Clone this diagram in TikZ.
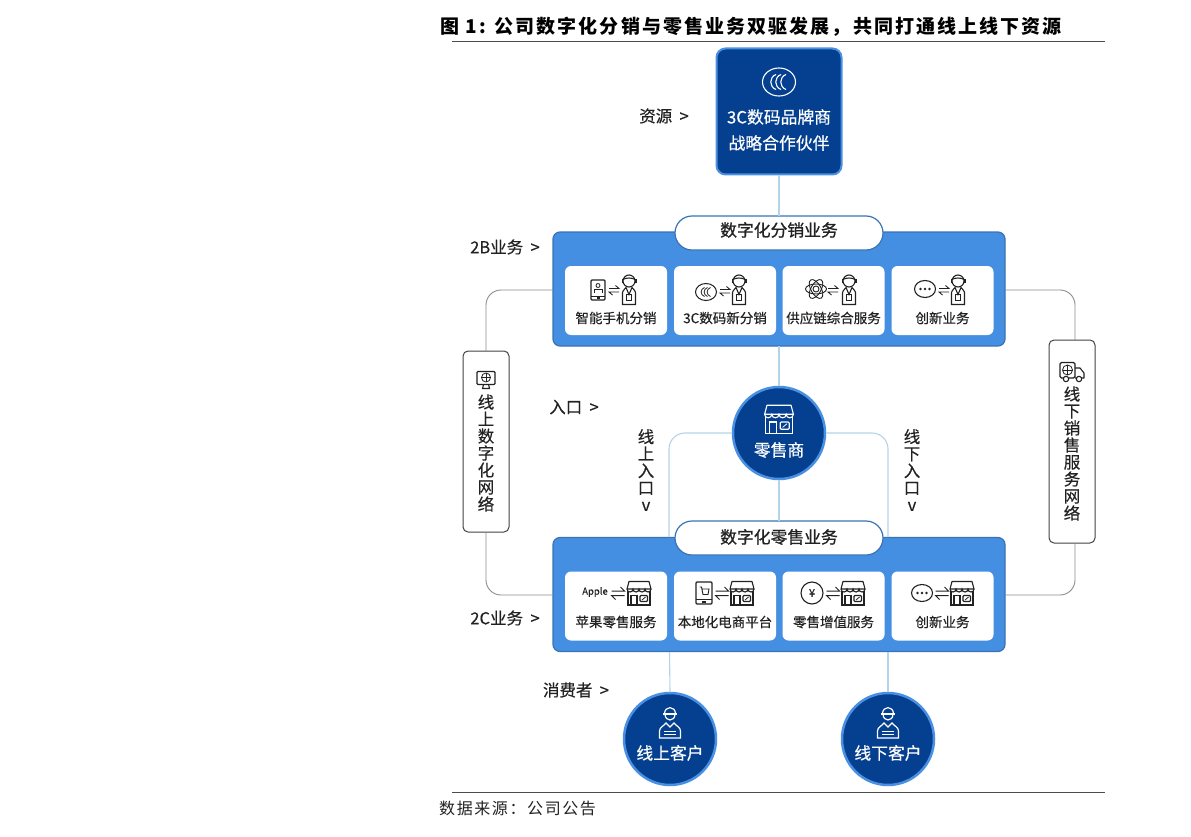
\documentclass[tikz,border=0pt]{standalone}
\usepackage{fontspec}
\setmainfont{Noto Sans CJK SC}[FakeBold=0.35]
\newfontfamily\titlefont[LetterSpace=11]{Noto Sans CJK SC}
\newfontfamily\notefont[LetterSpace=10]{Noto Sans CJK SC}
\newfontfamily\pillfont[FakeBold=0.9]{Noto Sans CJK SC}
\definecolor{navy}{HTML}{04408F}
\definecolor{rim}{HTML}{4A90E2}
\definecolor{panelblue}{HTML}{458FE3}
\definecolor{paneledge}{HTML}{3A73B5}
\definecolor{linkblue}{HTML}{B5D3E8}
\definecolor{ink}{HTML}{222222}
\tikzset{
    panel/.style={draw=paneledge, fill=panelblue, line width=1.2pt, rounded corners=7pt, minimum width=452pt, minimum height=114pt, inner sep=0pt, outer sep=0pt},
    pill/.style={draw=paneledge, fill=white, line width=1.2pt, rounded corners=17pt, minimum width=208pt, minimum height=34pt, inner sep=0pt, outer sep=0pt},
    pilltext/.style={inner sep=0pt, text=ink, font=\fontsize{16.8}{18}\pillfont},
    card/.style={fill=white, rounded corners=6pt, minimum width=102pt, minimum height=69pt, inner sep=0pt, outer sep=0pt},
    cardtext/.style={inner sep=0pt, text=ink, font=\fontsize{13.5}{15}\selectfont},
    hub/.style={circle, draw=rim, fill=navy, line width=2.5pt, minimum size=92pt, inner sep=0pt, outer sep=1pt},
    hubtext/.style={inner sep=0pt, text=white, font=\fontsize{16.8}{18}\selectfont},
    netbox/.style={draw=ink!85, fill=white, line width=1pt, rounded corners=5pt, minimum width=46pt, inner sep=0pt, outer sep=0pt},
    stacktext/.style={align=center, inner sep=0pt, text=ink, font=\fontsize{16.5}{17}\selectfont},
    sidetext/.style={inner sep=0pt, text=ink, font=\fontsize{16.5}{18}\selectfont},
    bluelink/.style={draw=linkblue, line width=1.1pt, rounded corners=16pt},
    greylink/.style={draw=black!45, line width=0.9pt, rounded corners=15pt},
    rule/.style={draw=black!70, line width=1pt},
    pics/swap/.style={code={
        \draw [line width=0.9pt] (-5,-1.5) -- (5,-1.5) -- (1.5,-4.5);
        \draw [line width=0.9pt] (5,2) -- (-5,2) -- (-1.5,5);
    }},
    pics/swapwide/.style={code={
        \draw [line width=1pt] (-6.5,-2) -- (6.5,-2) -- (2.5,-6);
        \draw [line width=1pt] (6.5,2.5) -- (-6.5,2.5) -- (-2.5,6.5);
    }},
    pics/agent/.style={code={
        \draw [line width=1.1pt] (0,-8.5) circle [radius=6pt];
        \draw [line width=1.1pt] (-6,-10) .. controls (-3,-12) and (3,-12) .. (6,-10);
        \fill (-7.5,-10.5) rectangle (-5.8,-6.5);
        \fill (5.8,-10.5) rectangle (7.5,-6.5);
        \draw [line width=1.1pt] (-6.5,15) -- (-6.5,3) .. controls (-6.5,1.5) and (-5,0.5) .. (-3,-2) -- (0,5) -- (3,-2) .. controls (5,0.5) and (6.5,1.5) .. (6.5,3) -- (6.5,15) -- cycle;
        \draw [line width=0.9pt] (-2.5,5) rectangle (2.5,11);
    }},
    pics/store/.style={code={
        \draw [line width=1.1pt, line join=round] (-10,-11.5) -- (10,-11.5) -- (12,-4) -- (-12,-4) -- cycle;
        \draw [line width=1.1pt] (-12,-4) .. controls (-12,0) and (-6,0) .. (-6,-4) .. controls (-6,0) and (0,0) .. (0,-4) .. controls (0,0) and (6,0) .. (6,-4) .. controls (6,0) and (12,0) .. (12,-4);
        \draw [line width=1.1pt] (-11,-2) -- (-11,12) -- (11,12) -- (11,-2);
        \draw [line width=1.1pt] (-8,12) -- (-8,2.5) -- (-2,2.5) -- (-2,12);
        \draw [line width=1.1pt, rounded corners=1pt] (1,2.5) rectangle (8.5,8.5);
        \draw [line width=0.8pt] (3,7) -- (6.5,4);
    }},
    pics/ccc/.style={code={
        \draw [line width=1.1pt] (0,0) ellipse [x radius=16.5pt, y radius=14pt];
        \draw [line width=1.1pt] (-3,-7.5) .. controls (-10,-5) and (-10,5) .. (-3,7.5);
        \draw [line width=1.1pt] (2,-7.5) .. controls (-5,-5) and (-5,5) .. (2,7.5);
        \draw [line width=1.1pt] (7,-7.5) .. controls (0,-5) and (0,5) .. (7,7.5);
    }},
    pics/cccsmall/.style={code={
        \draw [line width=1pt] (0,0) ellipse [x radius=10.5pt, y radius=8.5pt];
        \draw [line width=0.8pt] (-1.5,-4.5) .. controls (-6,-3) and (-6,3) .. (-1.5,4.5);
        \draw [line width=0.8pt] (1.5,-4.5) .. controls (-3,-3) and (-3,3) .. (1.5,4.5);
        \draw [line width=0.8pt] (4.5,-4.5) .. controls (0,-3) and (0,3) .. (4.5,4.5);
    }},
    pics/bubble/.style={code={
        \draw [line width=1.1pt] (0,0) ellipse [x radius=10.5pt, y radius=8.5pt];
        \fill (-4.5,0) circle [radius=1.3pt];
        \fill (0,0) circle [radius=1.3pt];
        \fill (4.5,0) circle [radius=1.3pt];
    }},
    pics/atom/.style={code={
        \draw [line width=0.9pt] (0,0) ellipse [x radius=10.5pt, y radius=5pt];
        \draw [line width=0.9pt, rotate=60] (0,0) ellipse [x radius=10.5pt, y radius=5pt];
        \draw [line width=0.9pt, rotate=-60] (0,0) ellipse [x radius=10.5pt, y radius=5pt];
        \draw [line width=0.9pt] (0,0) circle [radius=3pt];
    }},
    pics/handset/.style={code={
        \draw [line width=1.1pt, rounded corners=1pt] (-7,-10) rectangle (7,10);
        \draw [line width=0.8pt] (-7,6) -- (7,6);
        \fill (-1.5,7.3) rectangle (1.5,8.5);
        \draw [line width=0.8pt] (0,-4.5) circle [radius=2pt];
        \draw [line width=0.8pt] (-4,3) -- (-4,-0.5) -- (4,-0.5) -- (4,3);
    }},
    pics/shopphone/.style={code={
        \draw [line width=1.1pt, rounded corners=1pt] (-8,-11) rectangle (8,11);
        \draw [line width=0.8pt] (-8,6.5) -- (8,6.5);
        \fill (-2,8) rectangle (2,9.5);
        \draw [line width=0.9pt] (-4.5,-6) -- (-2.5,-6) -- (-1,1.5) -- (4,1.5) -- (5,-4) -- (-2,-4);
    }},
    pics/monitor/.style={code={
        \draw [line width=1.1pt, rounded corners=1pt] (-9,-8.5) rectangle (9,4.5);
        \draw [line width=0.8pt] (0,-2.5) circle [radius=4.5pt];
        \draw [line width=0.6pt] (-4.5,-2.5) -- (4.5,-2.5);
        \draw [line width=0.6pt] (0,-7) -- (0,2);
        \draw [line width=1.1pt] (-2.5,4.5) -- (-3.5,8.5) -- (3.5,8.5) -- (2.5,4.5);
    }},
    pics/truck/.style={code={
        \draw [line width=1.1pt, rounded corners=1.5pt] (-12,-9.5) rectangle (3,6);
        \draw [line width=0.8pt] (-4.5,-2) circle [radius=5pt];
        \draw [line width=0.6pt] (-9.5,-2) -- (0.5,-2);
        \draw [line width=0.6pt] (-4.5,-7) -- (-4.5,3);
        \draw [line width=1.1pt, line join=round] (3,-4) -- (8,-4) -- (12,1) -- (12,6) -- (3,6);
        \draw [line width=1.1pt, fill=white] (-6,7) circle [radius=2.7pt];
        \draw [line width=1.1pt, fill=white] (7,7) circle [radius=2.7pt];
    }},
    pics/client/.style={code={
        \draw [line width=1.2pt] (-5.5,-9) .. controls (-5.5,-17.5) and (5.5,-17.5) .. (5.5,-9) -- cycle;
        \draw [line width=1.2pt] (-7,-9) -- (7,-9);
        \draw [line width=1.2pt] (-5,-9) .. controls (-5,-1) and (5,-1) .. (5,-9);
        \draw [line width=1.2pt] (-10.5,15) -- (-10.5,8) .. controls (-10.5,4) and (-6,3) .. (-4,0) -- (0,4) -- (4,0) .. controls (6,3) and (10.5,4) .. (10.5,8) -- (10.5,15) -- cycle;
        \draw [line width=1pt] (-6,8) -- (6,8);
        \draw [line width=1pt] (-6,11.5) -- (6,11.5);
    }},
}
\begin{document}
\begin{tikzpicture}[x=1pt, y=-1pt]
    \useasboundingbox (0,0) rectangle (1191,837);

    % caption and source
    \node [anchor=west, inner sep=0pt, text=black] (caption) at (440,27) {\fontsize{19}{21}\titlefont\bfseries 图 1: 公司数字化分销与零售业务双驱发展\symbol{"FF0C}共同打通线上线下资源};
    \coordinate (ruleAa) at (452,42);
    \coordinate (ruleAb) at (1105,42);
    \coordinate (ruleBa) at (452,792);
    \coordinate (ruleBb) at (1105,792);
    \draw [rule] (ruleAa) -- (ruleAb);
    \draw [rule] (ruleBa) -- (ruleBb);
    \node [anchor=west, inner sep=0pt, text=ink] (source) at (439,808) {\fontsize{16}{18}\notefont 数据来源\symbol{"FF1A}公司公告};

    % partner on top
    \node [draw=rim, fill=navy, line width=2pt, rounded corners=9pt, minimum width=125pt, minimum height=126pt, outer sep=1pt] (partner) at (779,111.5) {};
    \pic [white] at (779,82) {ccc};
    \node [hubtext, align=center, font=\fontsize{16.8}{26}\selectfont] (partnertext) at (779,130) {3C数码品牌商\\战略合作伙伴};

    % distribution panel
    \node [panel] (panelA) at (779,289) {};
    \node [pill] (pillA) at (779,233) {};
    \node [pilltext] (pillAtext) at (779,230) {数字化分销业务};
    \node [card] (cardAa) at (616,300.5) {};
    \node [card] (cardAb) at (725,300.5) {};
    \node [card] (cardAc) at (833.5,300.5) {};
    \node [card] (cardAd) at (942.5,300.5) {};
    \node [cardtext] (textAa) at (616,318) {智能手机分销};
    \node [cardtext] (textAb) at (725,318) {3C数码新分销};
    \node [cardtext] (textAc) at (833.5,318) {供应链综合服务};
    \node [cardtext] (textAd) at (942.5,318) {创新业务};
    \pic [ink] at (598,290) {handset};
    \pic [ink] at (614,290) {swap};
    \pic [ink] at (629,289.5) {agent};
    \pic [ink] at (706,292) {cccsmall};
    \pic [ink] at (725,291) {swap};
    \pic [ink] at (739,289.5) {agent};
    \pic [ink] at (816,289) {atom};
    \pic [ink] at (833,290) {swap};
    \pic [ink] at (849,289.5) {agent};
    \pic [ink] at (925,289) {bubble};
    \pic [ink] at (944,290) {swap};
    \pic [ink] at (958,289.5) {agent};

    % retail panel
    \node [panel] (panelB) at (779,594.5) {};
    \node [pill] (pillB) at (779,538) {};
    \node [pilltext] (pillBtext) at (779,537) {数字化零售业务};
    \node [card] (cardBa) at (616,606) {};
    \node [card] (cardBb) at (725,606) {};
    \node [card] (cardBc) at (833.5,606) {};
    \node [card] (cardBd) at (942.5,606) {};
    \node [cardtext] (textBa) at (616,622) {苹果零售服务};
    \node [cardtext] (textBb) at (725,622) {本地化电商平台};
    \node [cardtext] (textBc) at (833.5,622) {零售增值服务};
    \node [cardtext] (textBd) at (942.5,622) {创新业务};
    \node [inner sep=0pt, text=ink, font=\fontsize{9.5}{11}\selectfont] (apple) at (595,592) {Apple};
    \pic [ink] at (618,593) {swapwide};
    \pic [ink] at (639,593) {store};
    \pic [ink] at (704,593) {shopphone};
    \pic [ink] at (722,593) {swapwide};
    \pic [ink] at (742,593) {store};
    \draw [ink, line width=1.1pt] (812,593) circle [radius=11pt];
    \node [inner sep=0pt, text=ink, font=\fontsize{11}{12}\selectfont] (yen) at (812,593) {¥};
    \pic [ink] at (833,593) {swapwide};
    \pic [ink] at (853,593) {store};
    \pic [ink] at (922,593) {bubble};
    \pic [ink] at (942,593) {swapwide};
    \pic [ink] at (962,593) {store};

    % retailer and customers
    \node [hub] (retailer) at (779,433) {};
    \pic [white, scale=1.2] at (779,419) {store};
    \node [hubtext] (retailertext) at (779,450) {零售商};
    \node [hub] (online) at (670,739) {};
    \node [hub] (offline) at (888,739) {};
    \pic [white] at (670,723) {client};
    \pic [white] at (888,723) {client};
    \node [hubtext] (onlinetext) at (670,753) {线上客户};
    \node [hubtext] (offlinetext) at (888,753) {线下客户};

    % the two networks
    \node [netbox, minimum height=181pt] (netL) at (486,441.5) {};
    \node [netbox, minimum height=203pt] (netR) at (1072,441.5) {};
    \pic [ink] at (486,380) {monitor};
    \pic [ink] at (1072,372) {truck};
    \node [stacktext] (netLtext) at (486,453) {线\\上\\数\\字\\化\\网\\络};
    \node [stacktext] (netRtext) at (1072,453.5) {线\\下\\销\\售\\服\\务\\网\\络};

    % side labels
    \node [sidetext] (labelsrc) at (664,116) {资源~~>};
    \node [sidetext] (labelB) at (505,247) {2B业务~~>};
    \node [sidetext] (labelin) at (574,407) {入口~~>};
    \node [sidetext] (labelC) at (505,618) {2C业务~~>};
    \node [sidetext] (labelcust) at (576,690) {消费者~~>};
    \node [stacktext] (labelon) at (646,470) {线\\上\\入\\口\\v};
    \node [stacktext] (labeloff) at (912,470) {线\\下\\入\\口\\v};

    % connectors
    \coordinate (onlinein) at (669,537);
    \coordinate (offlinein) at (888,537);
    \coordinate (onlineout) at (669.5,652);
    \coordinate (offlineout) at (888,652);
    \coordinate (netLa) at (553,290);
    \coordinate (netLb) at (553,595);
    \coordinate (netRa) at (1005,290);
    \coordinate (netRb) at (1005,595);
    \coordinate (netRtop) at (1075,340);
    \coordinate (netRbot) at (1075,543);
    \draw [bluelink] (partner.south) -- (pillA.north);
    \draw [bluelink] (panelA.south) -- (retailer.north);
    \draw [bluelink] (retailer.south) -- (pillB.north);
    \draw [bluelink] (retailer.west) -| (onlinein);
    \draw [bluelink] (retailer.east) -| (offlinein);
    \draw [bluelink] (onlineout) -- (online.north);
    \draw [bluelink] (offlineout) -- (offline.north);
    \draw [greylink] (netLa) -| (netL.north);
    \draw [greylink] (netL.south) |- (netLb);
    \draw [greylink] (netRa) -| (netRtop);
    \draw [greylink] (netRbot) |- (netRb);
\end{tikzpicture}
\end{document}
